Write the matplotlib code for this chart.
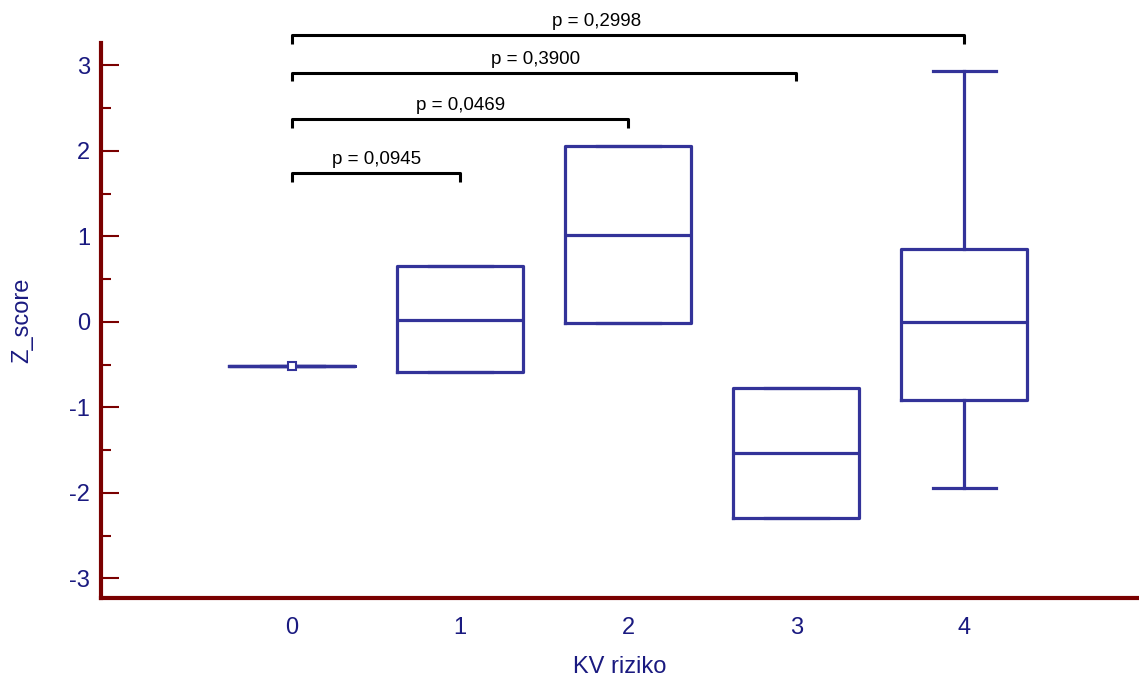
import matplotlib.pyplot as plt

plt.rcParams.update({
    "font.family": ["Liberation Sans", "DejaVu Sans"],
    "font.size": 16,
    "axes.unicode_minus": False,
})

# box data per KV riziko group
groups = [0, 1, 2, 3, 4]
medians = [-0.52, 0.02, 1.02, -1.53, 0.00]
q1 = [-0.52, -0.59, -0.01, -2.30, -0.92]
q3 = [-0.52, 0.65, 2.05, -0.77, 0.85]
whis_lo = [-0.52, -0.59, -0.01, -2.30, -1.94]
whis_hi = [-0.52, 0.65, 2.05, -0.77, 2.93]

# pairwise comparisons against group 0
pairs = [(0, 1), (0, 2), (0, 3), (0, 4)]
p_labels = ["p = 0,0945", "p = 0,0469", "p = 0,3900", "p = 0,2998"]
bracket_y = [1.74, 2.37, 2.91, 3.35]
label_x = [0.5, 1.0, 1.45, 1.81]

box_color = "#333399"
spine_color = "#7a0000"
text_color = "#1a1a80"

fig = plt.figure(figsize=(11.39, 6.77), dpi=100)
ax = fig.add_axes([101 / 1139, 79 / 677, 1 - 101 / 1139, 555 / 677])

stats = []
for i in range(len(groups)):
    stats.append({"med": medians[i], "q1": q1[i], "q3": q3[i],
                  "whislo": whis_lo[i], "whishi": whis_hi[i], "fliers": []})

lp = dict(color=box_color, linewidth=2.3)
ax.bxp(stats, positions=groups, widths=0.75, capwidths=0.375,
       boxprops=lp, medianprops=lp, whiskerprops=lp, capprops=lp,
       showfliers=False, manage_ticks=False)
# single point for group 0
ax.plot(groups[0], medians[0], marker="s", markersize=6, markerfacecolor="white",
        markeredgecolor=box_color, markeredgewidth=1.5, zorder=5)

for (a, b), lab, y, tx in zip(pairs, p_labels, bracket_y, label_x):
    ax.plot([a, a, b, b], [y - 0.1, y, y, y - 0.1], color="black", linewidth=2.2,
            clip_on=False, solid_capstyle="butt")
    ax.text(tx, y + 0.06, lab, ha="center", va="bottom", fontsize=13.5,
            color="black", clip_on=False)

ax.set_xlim(-1.137, 5.04)
ax.set_ylim(-3.23, 3.26)
ax.set_xticks(groups)
ax.set_yticks([-3, -2, -1, 0, 1, 2, 3])
ax.set_yticks([-2.5, -1.5, -0.5, 0.5, 1.5, 2.5], minor=True)

for side in ["top", "right"]:
    ax.spines[side].set_visible(False)
for side in ["left", "bottom"]:
    ax.spines[side].set_color(spine_color)
    ax.spines[side].set_linewidth(3)

ax.tick_params(axis="y", which="major", direction="in", length=13, width=1.5,
               color=spine_color, labelcolor=text_color, labelsize=17, pad=8)
ax.tick_params(axis="y", which="minor", direction="in", length=7, width=1.5,
               color=spine_color)
ax.tick_params(axis="x", length=0, labelcolor=text_color, labelsize=17, pad=14)

ax.set_xlabel("KV riziko", color=text_color, fontsize=17, labelpad=12)
ax.set_ylabel("Z_score", color=text_color, fontsize=17, labelpad=26)

fig.savefig("out.png", dpi=100)
